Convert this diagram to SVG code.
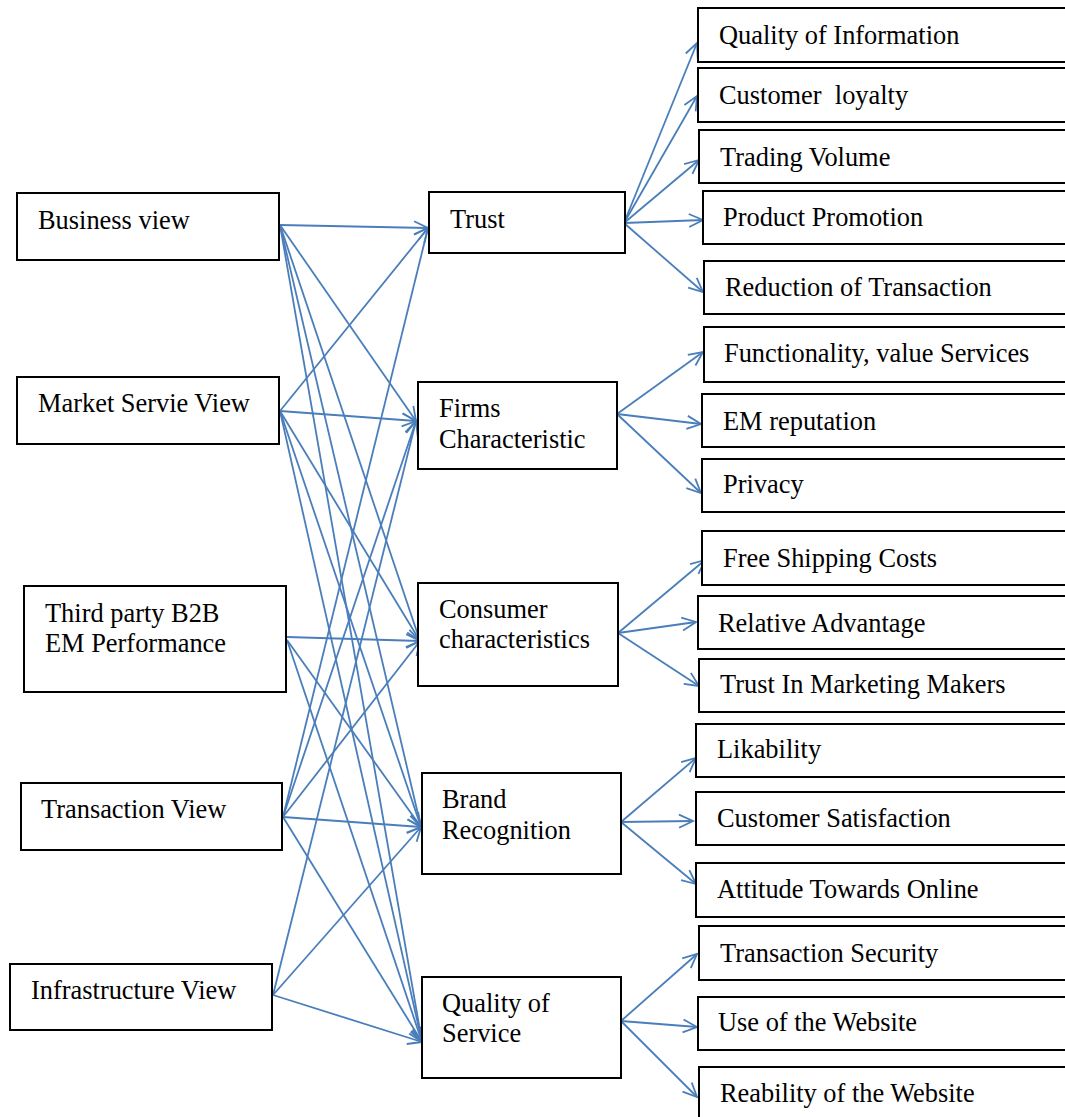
<svg xmlns="http://www.w3.org/2000/svg" width="1065" height="1117" viewBox="0 0 1065 1117">
<defs>
<style>
.box{fill:#fff;stroke:#000;stroke-width:2}
.t{font-size:26.4px;fill:#000;white-space:pre}
.c{fill:none;stroke:#4a7ebb;stroke-width:1.8}
</style>
<marker id="ah" markerUnits="userSpaceOnUse" markerWidth="18" markerHeight="18" refX="15" refY="8" orient="auto">
<path d="M1,1.5 L15,8 L1,14.5" fill="none" stroke="#4a7ebb" stroke-width="1.8"/>
</marker>
</defs>
<rect width="1065" height="1117" fill="#fff"/>

<g id="connectors">
<line class="c" x1="280" y1="225" x2="428" y2="228" marker-end="url(#ah)"/>
<line class="c" x1="280" y1="225" x2="416" y2="421" marker-end="url(#ah)"/>
<line class="c" x1="280" y1="225" x2="420" y2="641" marker-end="url(#ah)"/>
<line class="c" x1="280" y1="225" x2="421" y2="827" marker-end="url(#ah)"/>
<line class="c" x1="280" y1="225" x2="422" y2="1042" marker-end="url(#ah)"/>
<line class="c" x1="280" y1="411" x2="428" y2="228" marker-end="url(#ah)"/>
<line class="c" x1="280" y1="411" x2="416" y2="421" marker-end="url(#ah)"/>
<line class="c" x1="280" y1="411" x2="420" y2="641" marker-end="url(#ah)"/>
<line class="c" x1="280" y1="411" x2="421" y2="827" marker-end="url(#ah)"/>
<line class="c" x1="280" y1="411" x2="422" y2="1042" marker-end="url(#ah)"/>
<line class="c" x1="287" y1="637" x2="420" y2="641" marker-end="url(#ah)"/>
<line class="c" x1="287" y1="640" x2="421" y2="827" marker-end="url(#ah)"/>
<line class="c" x1="287" y1="640" x2="422" y2="1042" marker-end="url(#ah)"/>
<line class="c" x1="283" y1="817" x2="428" y2="228" marker-end="url(#ah)"/>
<line class="c" x1="283" y1="817" x2="416" y2="421" marker-end="url(#ah)"/>
<line class="c" x1="283" y1="817" x2="420" y2="641" marker-end="url(#ah)"/>
<line class="c" x1="283" y1="817" x2="421" y2="827" marker-end="url(#ah)"/>
<line class="c" x1="283" y1="817" x2="422" y2="1042" marker-end="url(#ah)"/>
<line class="c" x1="273" y1="995" x2="416" y2="421" marker-end="url(#ah)"/>
<line class="c" x1="273" y1="995" x2="421" y2="827" marker-end="url(#ah)"/>
<line class="c" x1="273" y1="995" x2="422" y2="1042" marker-end="url(#ah)"/>
<line class="c" x1="624" y1="223" x2="697" y2="43" marker-end="url(#ah)"/>
<line class="c" x1="624" y1="223" x2="697" y2="96" marker-end="url(#ah)"/>
<line class="c" x1="624" y1="223" x2="699" y2="160" marker-end="url(#ah)"/>
<line class="c" x1="624" y1="223" x2="703" y2="220" marker-end="url(#ah)"/>
<line class="c" x1="624" y1="223" x2="703" y2="292" marker-end="url(#ah)"/>
<line class="c" x1="617" y1="414" x2="703" y2="352" marker-end="url(#ah)"/>
<line class="c" x1="617" y1="414" x2="701" y2="424" marker-end="url(#ah)"/>
<line class="c" x1="617" y1="414" x2="701" y2="493" marker-end="url(#ah)"/>
<line class="c" x1="618" y1="633" x2="705" y2="560" marker-end="url(#ah)"/>
<line class="c" x1="618" y1="633" x2="696" y2="622" marker-end="url(#ah)"/>
<line class="c" x1="618" y1="633" x2="699" y2="686" marker-end="url(#ah)"/>
<line class="c" x1="621" y1="822" x2="696" y2="758" marker-end="url(#ah)"/>
<line class="c" x1="621" y1="822" x2="693" y2="821" marker-end="url(#ah)"/>
<line class="c" x1="621" y1="822" x2="696" y2="884" marker-end="url(#ah)"/>
<line class="c" x1="621" y1="1021" x2="697" y2="954" marker-end="url(#ah)"/>
<line class="c" x1="621" y1="1021" x2="697" y2="1027" marker-end="url(#ah)"/>
<line class="c" x1="621" y1="1021" x2="697" y2="1097" marker-end="url(#ah)"/>
</g>

<g font-family="'Liberation Serif', 'Times New Roman', 'DejaVu Serif', serif">
<g id="business-view"><rect class="box" x="17" y="193" width="262" height="67"/><text class="t" x="38" y="229">Business view</text></g>
<g id="market-servie-view"><rect class="box" x="17" y="377" width="262" height="67"/><text class="t" x="38" y="412">Market Servie View</text></g>
<g id="third-party"><rect class="box" x="24" y="586" width="262" height="106"/><text class="t" x="45" y="622">Third party B2B</text><text class="t" x="45" y="652">EM Performance</text></g>
<g id="transaction-view"><rect class="box" x="21" y="783" width="261" height="67"/><text class="t" x="41" y="818">Transaction View</text></g>
<g id="infrastructure-view"><rect class="box" x="10" y="964" width="262" height="66"/><text class="t" x="31" y="999">Infrastructure View</text></g>

<g id="trust"><rect class="box" x="429" y="192" width="196" height="61"/><text class="t" x="450" y="228">Trust</text></g>
<g id="firms-characteristic"><rect class="box" x="418" y="382" width="199" height="87"/><text class="t" x="439" y="417">Firms</text><text class="t" x="439" y="448">Characteristic</text></g>
<g id="consumer-characteristics"><rect class="box" x="418" y="583" width="200" height="103"/><text class="t" x="439" y="618">Consumer</text><text class="t" x="439" y="648">characteristics</text></g>
<g id="brand-recognition"><rect class="box" x="422" y="773" width="199" height="101"/><text class="t" x="442" y="808">Brand</text><text class="t" x="442" y="839">Recognition</text></g>
<g id="quality-of-service"><rect class="box" x="422" y="977" width="199" height="101"/><text class="t" x="442" y="1012">Quality of</text><text class="t" x="442" y="1042">Service</text></g>

<g id="quality-of-information"><rect class="box" x="698" y="8" width="380" height="54"/><text class="t" x="719" y="44">Quality of Information</text></g>
<g id="customer-loyalty"><rect class="box" x="698" y="68" width="380" height="54"/><text class="t" x="719" y="104">Customer  loyalty</text></g>
<g id="trading-volume"><rect class="box" x="699" y="130" width="380" height="53"/><text class="t" x="720" y="166">Trading Volume</text></g>
<g id="product-promotion"><rect class="box" x="703" y="191" width="380" height="53"/><text class="t" x="723" y="226">Product Promotion</text></g>
<g id="reduction-of-transaction"><rect class="box" x="704" y="261" width="380" height="53"/><text class="t" x="725" y="296">Reduction of Transaction</text></g>
<g id="functionality"><rect class="box" x="704" y="327" width="380" height="55"/><text class="t" x="724" y="362">Functionality, value Services</text></g>
<g id="em-reputation"><rect class="box" x="702" y="394" width="380" height="53"/><text class="t" x="723" y="430">EM reputation</text></g>
<g id="privacy"><rect class="box" x="702" y="459" width="380" height="53"/><text class="t" x="723" y="493">Privacy</text></g>
<g id="free-shipping-costs"><rect class="box" x="702" y="531" width="380" height="54"/><text class="t" x="723" y="567">Free Shipping Costs</text></g>
<g id="relative-advantage"><rect class="box" x="698" y="596" width="380" height="53"/><text class="t" x="718" y="632">Relative Advantage</text></g>
<g id="trust-in-marketing-makers"><rect class="box" x="699" y="659" width="380" height="53"/><text class="t" x="720" y="693">Trust In Marketing Makers</text></g>
<g id="likability"><rect class="box" x="696" y="724" width="380" height="53"/><text class="t" x="717" y="758">Likability</text></g>
<g id="customer-satisfaction"><rect class="box" x="696" y="792" width="380" height="53"/><text class="t" x="717" y="827">Customer Satisfaction</text></g>
<g id="attitude-towards-online"><rect class="box" x="696" y="863" width="380" height="54"/><text class="t" x="717" y="898">Attitude Towards Online</text></g>
<g id="transaction-security"><rect class="box" x="699" y="926" width="380" height="54"/><text class="t" x="720" y="962">Transaction Security</text></g>
<g id="use-of-the-website"><rect class="box" x="698" y="997" width="380" height="53"/><text class="t" x="718" y="1031">Use of the Website</text></g>
<g id="reability-of-the-website"><rect class="box" x="699" y="1067" width="380" height="60"/><text class="t" x="720" y="1102">Reability of the Website</text></g>
</g>
</svg>
